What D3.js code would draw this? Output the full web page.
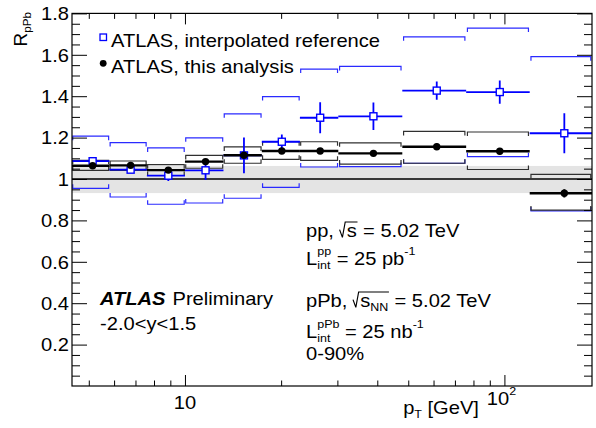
<!DOCTYPE html>
<html><head><meta charset="utf-8">
<script src="https://cdn.jsdelivr.net/npm/d3@7"></script>
<style>
body{margin:0;background:#fff}
svg{display:block}
text{font-family:"Liberation Sans",Arial,Helvetica,sans-serif;fill:#000;white-space:pre}
</style>
</head><body>
<svg id="c" width="596" height="428"></svg>
<script>
// ---------------- data ----------------
const ptEdges   = [4.43, 5.8, 7.6, 10, 13.2, 17.4, 22.9, 30.2, 47.9, 75.9, 120, 188];
const ptMean    = [5.14, 6.76, 8.87, 11.6, 15.3, 20.1, 26.5, 38.9, 61.4, 96.7, 154];
// ATLAS, this analysis
const thisVal   = [1.064, 1.066, 1.043, 1.084, 1.115, 1.135, 1.135, 1.124, 1.156, 1.134, 0.931];
const thisStat  = [0.012, 0.012, 0.012, 0.012, 0.012, 0.014, 0.014, 0.012, 0.016, 0.016, 0.020];
const thisSysUp = [1.090, 1.087, 1.069, 1.114, 1.155, 1.180, 1.180, 1.175, 1.230, 1.227, 1.022];
const thisSysDn = [1.042, 1.042, 1.017, 1.052, 1.076, 1.095, 1.090, 1.072, 1.076, 1.046, 0.850];
// ATLAS, interpolated reference
const refVal    = [1.086, 1.045, 1.016, 1.042, 1.114, 1.180, 1.296, 1.303, 1.427, 1.420, 1.221];
const refStat   = [0.012, 0.012, 0.026, 0.047, 0.086, 0.035, 0.075, 0.066, 0.044, 0.056, 0.097];
const refSysUp  = [1.207, 1.176, 1.150, 1.199, 1.315, 1.398, 1.531, 1.544, 1.687, 1.729, 1.591];
const refSysDn  = [0.955, 0.913, 0.878, 0.884, 0.907, 0.960, 1.058, 1.060, 1.076, 1.108, 0.846];
// normalisation uncertainty band
const normBand  = [0.932, 1.063];
// axes
const yMajorTicks  = [0.2, 0.4, 0.6, 0.8, 1.0, 1.2, 1.4, 1.6, 1.8];
const yTickLabels  = ["0.2", "0.4", "0.6", "0.8", "1", "1.2", "1.4", "1.6", "1.8"];
const yMinorTicks  = [0.05,0.1,0.15,0.25,0.3,0.35,0.45,0.5,0.55,0.65,0.7,0.75,0.85,0.9,0.95,1.05,1.1,1.15,1.25,1.3,1.35,1.45,1.5,1.55,1.65,1.7,1.75];
const xMajorTicks  = [10, 100];
const xMinorTicks  = [5, 6, 7, 8, 9, 20, 30, 40, 50, 60, 70, 80, 90];
const legendLabels = ["ATLAS, interpolated reference", "ATLAS, this analysis"];

// ---------------- layout ----------------
const M = {l: 72, r: 592, t: 13.4, b: 386};
const FS = 17.5, SX = 1.15;
const BLUE = "#0000ff";

const svg = d3.select("#c");
const x = d3.scaleLog().domain([ptEdges[0], ptEdges[ptEdges.length-1]]).range([M.l, M.r]);
const y = d3.scaleLinear().domain([0, 1.8]).range([M.b, M.t]);

svg.append("defs").append("clipPath").attr("id", "clip")
  .append("rect").attr("x", M.l).attr("y", M.t).attr("width", M.r - M.l).attr("height", M.b - M.t);
const plot = svg.append("g").attr("clip-path", "url(#clip)");

// ---------- rich text helper ----------
function richText(parent, x0, y0, segs, o = {}) {
  const fs = o.fs || FS, sx = o.sx || SX;
  const g = parent.append("g");
  const inner = g.append("g");
  function put(gg, str, cx, dy, size, weight, style) {
    const t = gg.append("text").attr("x", cx).attr("y", dy).attr("font-size", size)
      .attr("xml:space", "preserve")
      .attr("font-weight", weight || "normal").attr("font-style", style || "normal").text(str);
    return t.node().getComputedTextLength();
  }
  function layout(gg, list, cx) {
    list.forEach(s => {
      if (s.sqrt) {
        const start = cx;
        const rw = 0.34 * fs;
        const innerStart = start + rw;
        const end = layout(gg, s.sqrt, innerStart + 0.02 * fs);
        gg.append("path")
          .attr("d", `M${start},${-0.42*fs}L${start+0.14*fs},${0.02*fs}L${start+0.28*fs},${-0.86*fs}H${end+0.03*fs}`)
          .attr("fill", "none").attr("stroke", "#000").attr("stroke-width", 1);
        cx = end + 0.03 * fs;
      } else if (s.sup !== undefined || s.sub !== undefined) {
        const sz = fs * 0.62;
        let w1 = 0, w2 = 0;
        if (s.sup !== undefined) w1 = put(gg, s.sup, cx, -0.55 * fs, sz);
        if (s.sub !== undefined) w2 = put(gg, s.sub, cx, 0.23 * fs, sz);
        cx += Math.max(w1, w2);
      } else {
        cx += put(gg, s.t, cx, 0, s.fs || fs, s.w, s.st);
      }
    });
    return cx;
  }
  const width = layout(inner, segs, 0);
  let shift = 0;
  if (o.anchor === "end") shift = -width;
  else if (o.anchor === "middle") shift = -width / 2;
  inner.attr("transform", `translate(${shift},0)`);
  g.attr("transform", `translate(${x0},${y0})${o.rotate ? ` rotate(${o.rotate})` : ""} scale(${sx},1)`);
  return g;
}

// ---------- band and unity line ----------
plot.append("rect").attr("x", M.l).attr("width", M.r - M.l)
  .attr("y", y(normBand[1])).attr("height", y(normBand[0]) - y(normBand[1]))
  .attr("fill", "#e4e4e4");
plot.append("line").attr("x1", M.l).attr("x2", M.r).attr("y1", y(1)).attr("y2", y(1))
  .attr("stroke", "#000").attr("stroke-width", 1.4);

const bins = d3.range(ptMean.length);
function bracket(i, val, dir) {
  const xl = x(ptEdges[i]), xr = x(ptEdges[i + 1]);
  const inset = (xr - xl) * 0.02;
  const a = xl + inset, b = xr - inset, yy = y(val), tk = 4 * dir;
  return `M${a},${yy + tk}V${yy}H${b}V${yy + tk}`;
}

// systematic brackets
plot.append("g").selectAll("path").data(bins).join("path")
  .attr("d", i => bracket(i, refSysUp[i], 1) + bracket(i, refSysDn[i], -1))
  .attr("fill", "none").attr("stroke", "#2a2aff").attr("stroke-width", 1.2);
plot.append("g").selectAll("path").data(bins).join("path")
  .attr("d", i => bracket(i, thisSysUp[i], 1) + bracket(i, thisSysDn[i], -1))
  .attr("fill", "none").attr("stroke", "#303030").attr("stroke-width", 1.2);

// reference points
const gRef = plot.append("g");
gRef.selectAll("line.h").data(bins).join("line").attr("class", "h")
  .attr("x1", i => x(ptEdges[i])).attr("x2", i => x(ptEdges[i + 1]))
  .attr("y1", i => y(refVal[i])).attr("y2", i => y(refVal[i]))
  .attr("stroke", BLUE).attr("stroke-width", 1.8);
gRef.selectAll("line.v").data(bins).join("line").attr("class", "v")
  .attr("x1", i => x(ptMean[i])).attr("x2", i => x(ptMean[i]))
  .attr("y1", i => y(refVal[i] - refStat[i])).attr("y2", i => y(refVal[i] + refStat[i]))
  .attr("stroke", BLUE).attr("stroke-width", 1.8);
gRef.selectAll("rect").data(bins).join("rect")
  .attr("x", i => x(ptMean[i]) - 3.5).attr("y", i => y(refVal[i]) - 3.5)
  .attr("width", 7).attr("height", 7)
  .attr("fill", "#fff").attr("stroke", BLUE).attr("stroke-width", 1.4);

// this analysis points
const gThis = plot.append("g");
gThis.selectAll("line.h").data(bins).join("line").attr("class", "h")
  .attr("x1", i => x(ptEdges[i])).attr("x2", i => x(ptEdges[i + 1]))
  .attr("y1", i => y(thisVal[i])).attr("y2", i => y(thisVal[i]))
  .attr("stroke", "#000").attr("stroke-width", 2.4);
gThis.selectAll("line.v").data(bins).join("line").attr("class", "v")
  .attr("x1", i => x(ptMean[i])).attr("x2", i => x(ptMean[i]))
  .attr("y1", i => y(thisVal[i] - thisStat[i])).attr("y2", i => y(thisVal[i] + thisStat[i]))
  .attr("stroke", "#000").attr("stroke-width", 2);
gThis.selectAll("circle").data(bins).join("circle")
  .attr("cx", i => x(ptMean[i])).attr("cy", i => y(thisVal[i])).attr("r", 3.7)
  .attr("fill", "#000");

// ---------- frame and axes ----------
function styleAxis(g) {
  g.select(".domain").remove();
  g.selectAll("line").attr("stroke", "#000").attr("stroke-width", 1);
}
svg.append("g").attr("transform", `translate(${M.l},0)`)
  .call(d3.axisLeft(y).tickValues(yMinorTicks).tickSize(-8).tickFormat("")).call(styleAxis);
const yAx = svg.append("g").attr("transform", `translate(${M.l},0)`)
  .call(d3.axisLeft(y).tickValues(yMajorTicks).tickSize(-15).tickPadding(3)
    .tickFormat((d, i) => yTickLabels[i])).call(styleAxis);
yAx.selectAll("text").attr("font-size", FS).attr("x", null).attr("dy", null)
  .attr("font-family", '"Liberation Sans",Arial,sans-serif')
  .attr("transform", d => `translate(-3,${0.36 * FS}) scale(${SX},1)`);
svg.append("g").attr("transform", `translate(${M.r},0)`)
  .call(d3.axisRight(y).tickValues(yMinorTicks).tickSize(-8).tickFormat("")).call(styleAxis);
svg.append("g").attr("transform", `translate(${M.r},0)`)
  .call(d3.axisRight(y).tickValues(yMajorTicks).tickSize(-15).tickFormat("")).call(styleAxis);

svg.append("g").attr("transform", `translate(0,${M.b})`)
  .call(d3.axisBottom(x).tickValues(xMinorTicks).tickSize(-5.5).tickFormat("")).call(styleAxis);
svg.append("g").attr("transform", `translate(0,${M.b})`)
  .call(d3.axisBottom(x).tickValues(xMajorTicks).tickSize(-11).tickFormat("")).call(styleAxis);
svg.append("g").attr("transform", `translate(0,${M.t})`)
  .call(d3.axisTop(x).tickValues(xMinorTicks).tickSize(-5.5).tickFormat("")).call(styleAxis);
svg.append("g").attr("transform", `translate(0,${M.t})`)
  .call(d3.axisTop(x).tickValues(xMajorTicks).tickSize(-11).tickFormat("")).call(styleAxis);

svg.append("rect").attr("x", M.l).attr("y", M.t).attr("width", M.r - M.l).attr("height", M.b - M.t)
  .attr("fill", "none").attr("stroke", "#000").attr("stroke-width", 1.2);

// x tick labels
richText(svg, x(xMajorTicks[0]), 408.5, [{t: "10"}], {anchor: "middle"});
richText(svg, x(xMajorTicks[1]) - 3, 405, [{t: "10"}, {sup: "2"}], {anchor: "middle"});

// axis titles
richText(svg, 479, 414, [{t: "p"}, {sub: "T"}, {t: " [GeV]"}], {anchor: "end"});
richText(svg, 27, 12, [{t: "R"}, {sub: "pPb"}], {anchor: "end", rotate: -90, sx: 1.08});

// ---------- legend ----------
const lg = svg.append("g");
lg.append("rect").attr("x", 100).attr("y", 34).attr("width", 6.5).attr("height", 6.5)
  .attr("fill", "#fff").attr("stroke", BLUE).attr("stroke-width", 1.3);
lg.append("circle").attr("cx", 103.2).attr("cy", 63.3).attr("r", 3.4).attr("fill", "#000");
richText(lg, 111, 46.5, [{t: legendLabels[0]}]);
richText(lg, 111, 72.5, [{t: legendLabels[1]}]);

// ---------- annotations ----------
richText(svg, 100, 304.5, [{t: "ATLAS", w: "bold", st: "italic"}]);
richText(svg, 172.5, 304.5, [{t: "Preliminary"}]);
richText(svg, 100, 330, [{t: "-2.0<y<1.5"}]);

richText(svg, 306, 237, [{t: "pp, "}, {sqrt: [{t: "s"}]}, {t: " = 5.02 TeV"}]);
richText(svg, 306, 265, [{t: "L"}, {sup: "pp", sub: "int"}, {t: " = 25 pb"}, {sup: "-1"}]);
richText(svg, 306, 307, [{t: "pPb, "}, {sqrt: [{t: "s"}, {sub: "NN"}]}, {t: " = 5.02 TeV"}]);
richText(svg, 306, 337.5, [{t: "L"}, {sup: "pPb", sub: "int"}, {t: " = 25 nb"}, {sup: "-1"}]);
richText(svg, 306, 360, [{t: "0-90%"}]);
</script>
</body></html>
